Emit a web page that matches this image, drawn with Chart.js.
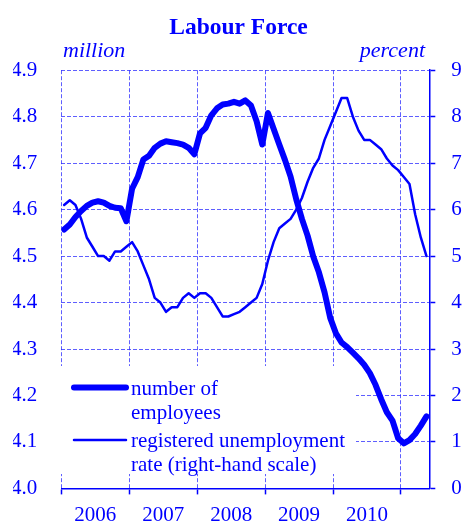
<!DOCTYPE html>
<html>
<head>
<meta charset="utf-8">
<title>Labour Force</title>
<script src="https://cdn.jsdelivr.net/npm/chart.js@4"></script>
<style>
  html, body { margin: 0; padding: 0; background: #fff; }
</style>
</head>
<body>
<canvas id="labourChart" width="464" height="525"></canvas>
<script>
const BLUE = '#0000ff';
const GRID = 'rgba(40,40,255,0.75)';
const NONE = 'rgba(0,0,0,0)';
const SERIF = '"Liberation Serif", "Times New Roman", serif';

// monthly values, Jan 2006 - May 2011
const employees = [
  4.557, 4.568, 4.584, 4.597, 4.608, 4.615, 4.618, 4.615, 4.608, 4.604,
  4.603, 4.575, 4.645, 4.670, 4.708, 4.716, 4.733, 4.742, 4.747, 4.745,
  4.743, 4.740, 4.733, 4.719, 4.764, 4.776, 4.803, 4.818, 4.826, 4.828,
  4.832, 4.828, 4.835, 4.824, 4.790, 4.740, 4.808, 4.774, 4.740, 4.707,
  4.671, 4.622, 4.580, 4.544, 4.499, 4.465, 4.422, 4.367, 4.334, 4.314,
  4.304, 4.292, 4.280, 4.266, 4.248, 4.223, 4.192, 4.164, 4.146, 4.108,
  4.097, 4.104, 4.117, 4.135, 4.155
];
const unemployment = [
  6.1, 6.2, 6.1, 5.8, 5.4, 5.2, 5.0, 5.0, 4.9, 5.1,
  5.1, 5.2, 5.3, 5.1, 4.8, 4.5, 4.1, 4.0, 3.8, 3.9,
  3.9, 4.1, 4.2, 4.1, 4.2, 4.2, 4.1, 3.9, 3.7, 3.7,
  3.75, 3.8, 3.9, 4.0, 4.1, 4.4, 4.9, 5.3, 5.6, 5.7,
  5.8, 6.0, 6.25, 6.6, 6.9, 7.1, 7.5, 7.8, 8.1, 8.4,
  8.4, 8.0, 7.7, 7.5, 7.5, 7.4, 7.3, 7.1, 6.95, 6.85,
  6.7, 6.55, 5.9, 5.4, 5.0
];
const yearLabels = ['2006', '2007', '2008', '2009', '2010'];
const leftTicks = [4.0, 4.1, 4.2, 4.3, 4.4, 4.5, 4.6, 4.7, 4.8, 4.9];
const rightTicks = [0, 1, 2, 3, 4, 5, 6, 7, 8, 9];
const monthTicks = [0, 6, 12, 18, 24, 30, 36, 42, 48, 54, 60];

// points sit in the middle of each month
const toPoints = (arr) => arr.map((v, i) => ({ x: i + 0.5, y: v }));

const isYearStart = (ctx) => ctx.tick && ctx.tick.value % 12 === 0;

// legend box + unit labels, drawn over the grid but under the lines
const overlay = {
  id: 'overlay',
  beforeDatasetsDraw(chart) {
    const c = chart.ctx;
    c.save();
    c.fillStyle = '#fff';
    c.fillRect(58, 366, 298, 108);

    c.strokeStyle = BLUE;
    c.lineCap = 'round';
    c.lineWidth = 6;
    c.beginPath(); c.moveTo(74, 387.6); c.lineTo(126, 387.6); c.stroke();
    c.lineWidth = 2.5;
    c.beginPath(); c.moveTo(74, 440); c.lineTo(126, 440); c.stroke();

    c.fillStyle = BLUE;
    c.textAlign = 'left';
    c.textBaseline = 'alphabetic';
    c.font = '21px ' + SERIF;
    c.fillText('number of', 131, 395);
    c.fillText('employees', 131, 418.5);
    c.fillText('registered unemployment', 131, 446.7);
    c.fillText('rate (right-hand scale)', 131, 470.7);

    c.font = 'italic 22px ' + SERIF;
    c.fillText('million', 63, 56.5);
    c.textAlign = 'right';
    c.fillText('percent', 425, 56.5);
    c.restore();
  }
};

const ctx = document.getElementById('labourChart').getContext('2d');
const labourChart = new Chart(ctx, {
  type: 'line',
  data: {
    datasets: [{
      label: 'number of employees',
      data: toPoints(employees),
      yAxisID: 'y',
      borderColor: BLUE,
      borderWidth: 6,
      borderCapStyle: 'round',
      borderJoinStyle: 'round',
      pointRadius: 0,
      tension: 0
    }, {
      label: 'registered unemployment rate (right-hand scale)',
      data: toPoints(unemployment),
      yAxisID: 'y1',
      borderColor: BLUE,
      borderWidth: 2.5,
      borderCapStyle: 'round',
      borderJoinStyle: 'round',
      pointRadius: 0,
      tension: 0
    }]
  },
  options: {
    responsive: false,
    animation: false,
    layout: { padding: { left: 13, right: 0, top: 0, bottom: 0 } },
    plugins: {
      legend: { display: false },
      tooltip: { enabled: false },
      title: {
        display: true,
        text: 'Labour Force',
        color: BLUE,
        font: { family: SERIF, size: 23.5, weight: 'bold' },
        padding: { top: 14, bottom: 28 }
      }
    },
    scales: {
      x: {
        type: 'linear',
        min: 0,
        max: 65,
        afterBuildTicks: (axis) => { axis.ticks = monthTicks.map(v => ({ value: v })); },
        afterFit: (axis) => { axis.height = 35.4; },
        ticks: {
          color: BLUE,
          font: { family: SERIF, size: 21 },
          padding: 8,
          maxRotation: 0,
          autoSkip: false,
          callback: (v) => v % 12 === 6 ? yearLabels[(v - 6) / 12] : ''
        },
        grid: {
          color: (c) => isYearStart(c) ? GRID : NONE,
          lineWidth: 1,
          tickColor: (c) => isYearStart(c) ? BLUE : NONE,
          tickLength: 6,
          tickWidth: 1.5
        },
        border: { display: true, color: BLUE, width: 1.5, dash: [4, 2] }
      },
      y: {
        position: 'left',
        min: 4.0,
        max: 4.9,
        afterBuildTicks: (axis) => { axis.ticks = leftTicks.map(v => ({ value: v })); },
        afterFit: (axis) => { axis.width = 48.3; },
        ticks: {
          color: BLUE,
          font: { family: SERIF, size: 21 },
          padding: 24,
          callback: (v) => v.toFixed(1)
        },
        grid: {
          color: (c) => c.tick && c.tick.value > 4.01 ? GRID : NONE,
          lineWidth: 1,
          drawTicks: false
        },
        border: { display: false, dash: [4, 2] }
      },
      y1: {
        position: 'right',
        min: 0,
        max: 9,
        afterBuildTicks: (axis) => { axis.ticks = rightTicks.map(v => ({ value: v })); },
        afterFit: (axis) => { axis.width = 34.7; },
        ticks: {
          color: BLUE,
          font: { family: SERIF, size: 21 },
          padding: 16
        },
        grid: {
          drawOnChartArea: false,
          tickColor: BLUE,
          tickLength: 6,
          tickWidth: 1.5
        },
        border: { display: true, color: BLUE, width: 1.5 }
      }
    }
  },
  plugins: [overlay]
});
</script>
</body>
</html>
